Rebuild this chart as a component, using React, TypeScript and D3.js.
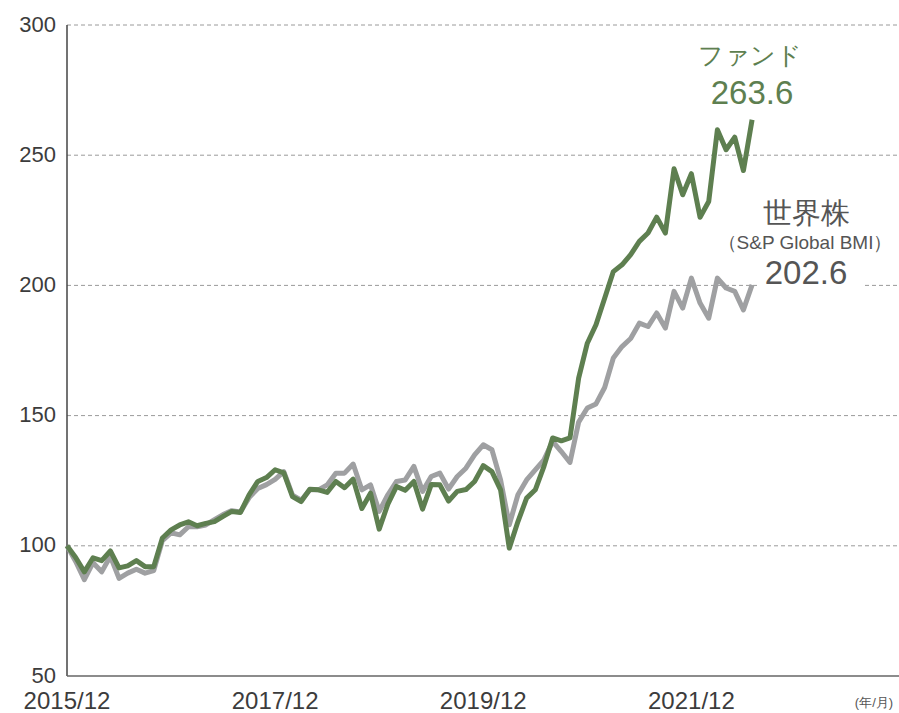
import React from "react";
import * as d3 from "d3";

const fundValues: number[] = [
  100, 95.5, 90, 95.4, 94.3, 98, 91.5, 92.3, 94.3, 92,
  92, 103, 106.1, 108, 109.2, 107.7, 108.6, 109.3, 111.3, 113.2,
  112.8, 119.6, 124.7, 126.2, 129.2, 128, 118.9, 117, 121.7, 121.5,
  120.5, 124.7, 122.3, 125.6, 114.3, 120.2, 106.4, 116, 122.8, 121.3,
  124.7, 114.1, 123.5, 123.4, 117.2, 120.9, 121.6, 124.7, 130.8, 128.5,
  121.5, 99.1, 109.3, 118.3, 121.5, 130.5, 141.4, 140.3, 141.4, 164.4,
  177.8, 184.9, 195.1, 205.3, 207.9, 211.8, 216.9, 220.1, 226.2, 220.1,
  244.8, 234.8, 242.9, 226.2, 232.2, 259.8, 252.1, 256.9, 244.1, 263.6,
];

const worldValues: number[] = [
  100, 94, 87, 93.5, 90, 96, 87.5, 89.5, 91, 89.5,
  90.5, 102, 105, 104.2, 107.3, 107.3, 108, 110, 112, 113.5,
  113, 118.5, 122, 123.5, 125.5, 128.5, 119.5, 117.5, 121.5, 121.5,
  123.4, 127.9, 127.9, 131.4, 121.5, 123.4, 113.2, 119.6, 124.7, 125.3,
  130.5, 120.9, 126.6, 127.9, 121.8, 126.6, 129.8, 134.9, 138.8, 136.9,
  125.3, 108.1, 119.6, 125.3, 129.2, 133, 140.1, 136.2, 132, 147.5,
  152.9, 154.5, 160.8, 172.1, 176.5, 179.6, 185.5, 184.2, 189.4, 183.6,
  197.7, 191.3, 202.8, 193.2, 187.4, 202.8, 199, 197.7, 190.6, 200.2,
];

const yTicks: number[] = [50, 100, 150, 200, 250, 300];
const xTickIndex: number[] = [0, 24, 48, 72];
const xTickLabels: string[] = ["2015/12", "2017/12", "2019/12", "2021/12"];
const unitLabel = "(年/月)";
const fundName = "ファンド";
const fundLast = "263.6";
const worldName = "世界株";
const worldSub = "（S&P Global BMI）";
const worldLast = "202.6";

const W = 899;
const H = 713;
const GREEN = "#5e7f50";
const GREY = "#9fa0a2";
const TEXT = "#3c3c3c";

export default function App() {
  const x = d3.scaleLinear().domain([0, 96]).range([67, 899.5]);
  const y = d3.scaleLinear().domain([50, 300]).range([676, 25]);
  const line = d3
    .line<number>()
    .x((_, i) => x(i))
    .y((d) => y(d))
    .curve(d3.curveLinear);

  const font = "'Liberation Sans', Arial, sans-serif";

  return (
    <svg
      width={W}
      height={H}
      style={{ position: "absolute", left: 0, top: 0, background: "#fff" }}
      fontFamily={font}
    >
      {yTicks
        .filter((t) => t !== 50)
        .map((t) => (
          <line
            key={"g" + t}
            x1={x(0)}
            x2={W}
            y1={y(t)}
            y2={y(t)}
            stroke="#9a9a9a"
            strokeWidth={1}
            strokeDasharray="4,3"
          />
        ))}
      {yTicks.map((t) => (
        <text
          key={"yt" + t}
          x={56}
          y={y(t)}
          dy="0.3em"
          textAnchor="end"
          fontSize={22}
          fill={TEXT}
        >
          {t}
        </text>
      ))}
      <line x1={x(0)} x2={x(0)} y1={y(300)} y2={y(50)} stroke="#444" strokeWidth={1.5} />
      <line x1={x(0)} x2={W} y1={y(50)} y2={y(50)} stroke="#666" strokeWidth={1.5} />
      {xTickIndex.map((v, i) => (
        <text
          key={"xt" + v}
          x={x(v)}
          y={709}
          textAnchor="middle"
          fontSize={24}
          fill={TEXT}
        >
          {xTickLabels[i]}
        </text>
      ))}
      <text x={874} y={707} textAnchor="middle" fontSize={13} fill="#555">
        {unitLabel}
      </text>

      <path d={line(worldValues) || ""} fill="none" stroke={GREY} strokeWidth={5} strokeLinejoin="round" />
      <path d={line(fundValues) || ""} fill="none" stroke={GREEN} strokeWidth={5} strokeLinejoin="round" />

      <text x={750} y={64} textAnchor="middle" fontSize={25} fill={GREEN}>
        {fundName}
      </text>
      <text x={752} y={104} textAnchor="middle" fontSize={33} fill={GREEN}>
        {fundLast}
      </text>

      <text x={806} y={223} textAnchor="middle" fontSize={29} fill="#555">
        {worldName}
      </text>
      <text x={805} y={249} textAnchor="middle" fontSize={19} fill="#555">
        {worldSub}
      </text>
      <rect x={758} y={255} width={104} height={36} fill="#fff" />
      <text x={806} y={284} textAnchor="middle" fontSize={33} fill="#555">
        {worldLast}
      </text>
    </svg>
  );
}
